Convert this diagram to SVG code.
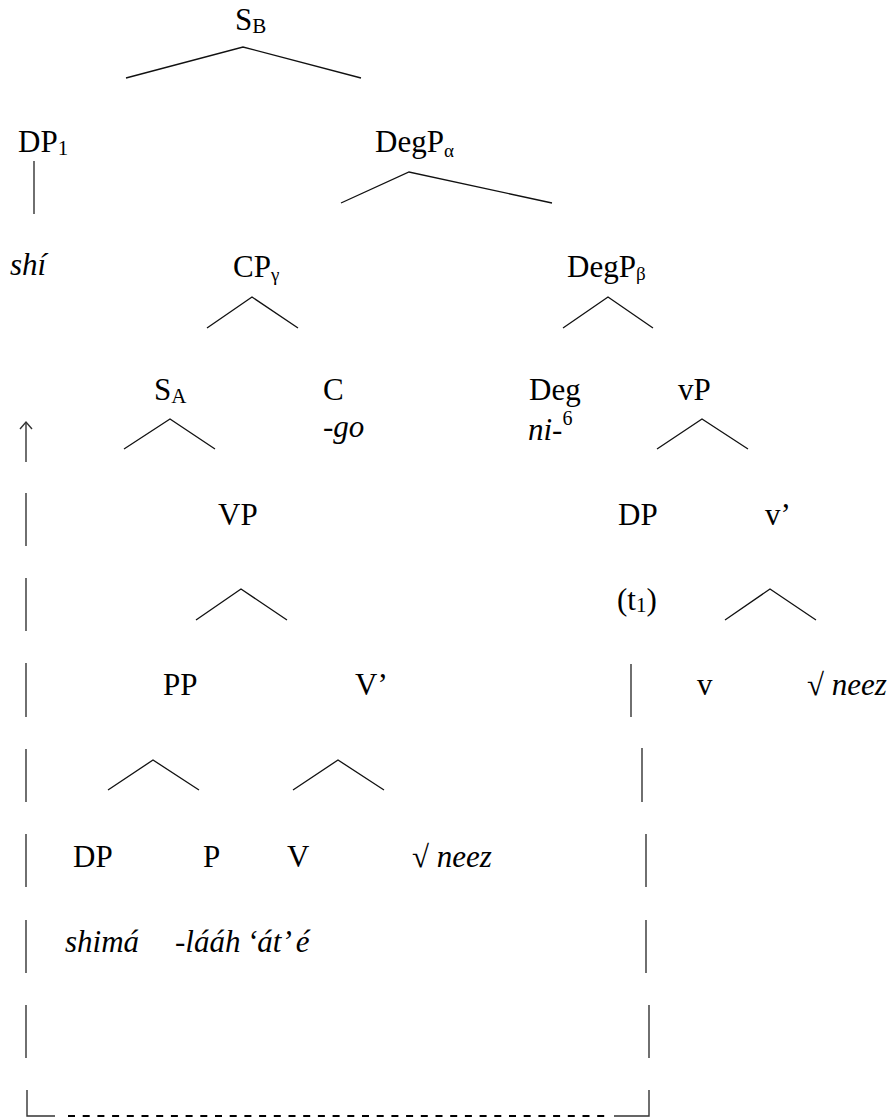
<svg xmlns="http://www.w3.org/2000/svg" width="892" height="1119" viewBox="0 0 892 1119">
<style>
text{font-family:"Liberation Serif","Times New Roman",serif;font-size:31px;fill:#000}
.i{font-style:italic}
.sub{font-size:21px}
.gr{font-size:19px}
.sup{font-size:20px}
.br{fill:none;stroke:#111;stroke-width:1.3}
.ln{stroke:#333;stroke-width:1.4;fill:none}
.dash{stroke:#000;stroke-width:2;stroke-dasharray:7 7.7;fill:none}
</style>
<rect width="892" height="1119" fill="#fff"/>
<g id="connectors">
<polyline class="br" points="126,78 243,47 361,78"/>
<line class="ln" x1="34" y1="161" x2="34" y2="214"/>
<polyline class="br" points="341,203 409,172 552,203"/>
<polyline class="br" points="207,328 252,297 298,328"/>
<polyline class="br" points="563,328 608,297 653,328"/>
<polyline class="br" points="124,449 170,419 215,449"/>
<polyline class="br" points="657,449 702,419 748,449"/>
<polyline class="br" points="196,620 241,589 287,620"/>
<polyline class="br" points="725,620 770,589 816,620"/>
<polyline class="br" points="108,790 153,760 199,790"/>
<polyline class="br" points="293,790 338,760 384,790"/>
<g id="movement">
<line class="ln" x1="26" y1="422" x2="26" y2="462"/>
<polyline class="ln" points="20,429 26,422 32,429"/>
<line class="ln" x1="26" y1="493" x2="26" y2="546"/>
<line class="ln" x1="26" y1="578" x2="26" y2="631"/>
<line class="ln" x1="26" y1="663" x2="26" y2="717"/>
<line class="ln" x1="26" y1="749" x2="26" y2="802"/>
<line class="ln" x1="26" y1="834" x2="26" y2="887"/>
<line class="ln" x1="26" y1="920" x2="26" y2="973"/>
<line class="ln" x1="26" y1="1005" x2="26" y2="1058"/>
<polyline class="ln" points="27,1090 27,1116 55,1116"/>
<line class="dash" x1="68" y1="1116" x2="606" y2="1116"/>
<polyline class="ln" points="614,1116 649,1116 649,1090"/>
<line class="ln" x1="649" y1="1005" x2="649" y2="1058"/>
<line class="ln" x1="646" y1="920" x2="646" y2="973"/>
<line class="ln" x1="646" y1="834" x2="646" y2="887"/>
<line class="ln" x1="642" y1="748" x2="642" y2="802"/>
<line class="ln" x1="631" y1="664" x2="631" y2="717"/>
</g>
</g>
<g id="n-SB"><text x="235" y="30">S<tspan class="sub" dy="3">B</tspan></text></g>
<g id="n-DP1"><text x="18" y="152">DP<tspan class="sub" dy="3">1</tspan></text></g>
<g id="n-DegPa"><text x="375" y="152">DegP<tspan class="gr" dy="5">α</tspan></text></g>
<g id="n-shi"><text class="i" x="10" y="275">shí</text></g>
<g id="n-CPg"><text x="233" y="277">CP<tspan class="gr" dy="4">γ</tspan></text></g>
<g id="n-DegPb"><text x="567" y="277">DegP<tspan class="gr" dy="3">β</tspan></text></g>
<g id="n-SA"><text x="154" y="400">S<tspan class="sub" dy="3">A</tspan></text></g>
<g id="n-C"><text x="323" y="400">C</text><text class="i" x="323" y="437">-go</text></g>
<g id="n-Deg"><text x="529" y="400">Deg</text><text x="528" y="440"><tspan class="i">ni-</tspan><tspan class="sup" dy="-15">6</tspan></text></g>
<g id="n-vP"><text x="678" y="400">vP</text></g>
<g id="n-VP"><text x="218" y="525">VP</text></g>
<g id="n-DPt"><text x="618" y="525">DP</text></g>
<g id="n-vbar"><text x="765" y="525">v’</text></g>
<g id="n-t1"><text x="617" y="610">(t<tspan class="sub" dy="2">1</tspan><tspan dy="-2">)</tspan></text></g>
<g id="n-PP"><text x="163" y="695">PP</text></g>
<g id="n-Vbar"><text x="355" y="695">V’</text></g>
<g id="n-v"><text x="697" y="695">v</text></g>
<g id="n-root2"><text x="807" y="695">√ <tspan class="i">neez</tspan></text></g>
<g id="n-DP"><text x="73" y="867">DP</text></g>
<g id="n-P"><text x="203" y="867">P</text></g>
<g id="n-V"><text x="287" y="867">V</text></g>
<g id="n-root1"><text x="412" y="867">√ <tspan class="i">neez</tspan></text></g>
<g id="n-shima"><text class="i" x="65" y="952">shimá</text></g>
<g id="n-laah"><text class="i" x="175" y="952">-lááh</text></g>
<g id="n-ate"><text class="i" x="247" y="952">‘át’<tspan dx="4">é</tspan></text></g>
</svg>
